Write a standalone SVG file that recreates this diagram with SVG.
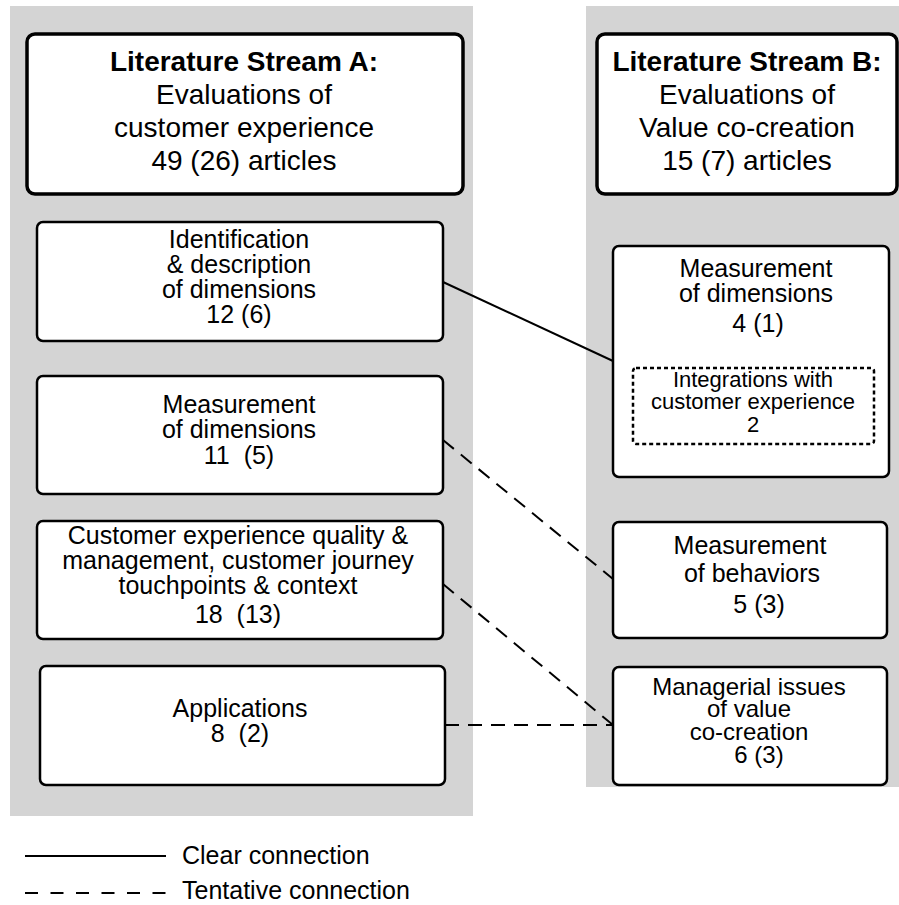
<svg xmlns="http://www.w3.org/2000/svg" width="899" height="905" viewBox="0 0 899 905">
<style>
.panel{fill:#d4d4d4;stroke:none}
.hdr{fill:#fff;stroke:#000;stroke-width:3.5}
.box{fill:#fff;stroke:#000;stroke-width:2.5}
.dot{fill:none;stroke:#000;stroke-width:2.5;stroke-dasharray:4 3}
text{font-family:"Liberation Sans",Arial,sans-serif;fill:#000;text-anchor:middle}
.h{font-size:28px}
.b{font-size:25px}
.m{font-size:24px}
.s{font-size:22px}
.bold{font-weight:bold}
.clear{stroke:#000;stroke-width:2;fill:none}
.tent{stroke:#000;stroke-width:2;fill:none;stroke-dasharray:14 9}
</style>
<rect width="899" height="905" fill="#fff"/>
<rect class="panel" x="10" y="6" width="463" height="810"/>
<rect class="panel" x="586" y="6" width="313" height="781"/>

<g id="headerA">
<rect class="hdr" x="27" y="34" width="436" height="160" rx="8"/>
<text class="h bold" x="244" y="71">Literature Stream A:</text>
<text class="h" x="244" y="104">Evaluations of</text>
<text class="h" x="244" y="137">customer experience</text>
<text class="h" x="244" y="170">49 (26) articles</text>
</g>
<g id="headerB">
<rect class="hdr" x="597" y="34" width="300" height="160" rx="8"/>
<text class="h bold" x="747" y="71">Literature Stream B:</text>
<text class="h" x="747" y="104">Evaluations of</text>
<text class="h" x="747" y="137">Value co-creation</text>
<text class="h" x="747" y="170">15 (7) articles</text>
</g>

<g id="a1">
<rect class="box" x="37" y="222" width="406" height="119" rx="6"/>
<text class="b" x="239" y="248">Identification</text>
<text class="b" x="239" y="273">&amp; description</text>
<text class="b" x="239" y="298">of dimensions</text>
<text class="b" x="239" y="323">12 (6)</text>
</g>
<g id="a2">
<rect class="box" x="37" y="376" width="406" height="118" rx="6"/>
<text class="b" x="239" y="413">Measurement</text>
<text class="b" x="239" y="438">of dimensions</text>
<text class="b" x="239" y="464" xml:space="preserve">11  (5)</text>
</g>
<g id="a3">
<rect class="box" x="37" y="521" width="406" height="118" rx="6"/>
<text class="b" x="238" y="544">Customer experience quality &amp;</text>
<text class="b" x="238" y="569">management, customer journey</text>
<text class="b" x="238" y="594">touchpoints &amp; context</text>
<text class="b" x="238" y="623" xml:space="preserve">18  (13)</text>
</g>
<g id="a4">
<rect class="box" x="40" y="666" width="405" height="119" rx="6"/>
<text class="b" x="240" y="717">Applications</text>
<text class="b" x="240" y="742" xml:space="preserve">8  (2)</text>
</g>

<g id="b1">
<rect class="box" x="613" y="246" width="276" height="231" rx="6"/>
<text class="b" x="756" y="277">Measurement</text>
<text class="b" x="756" y="302">of dimensions</text>
<text class="b" x="758" y="332">4 (1)</text>
<g id="b1sub">
<rect class="dot" x="633" y="368" width="241" height="76" rx="3"/>
<text class="s" x="753" y="387">Integrations with</text>
<text class="s" x="753" y="409">customer experience</text>
<text class="s" x="753" y="432">2</text>
</g>
</g>
<g id="b2">
<rect class="box" x="613" y="522" width="274" height="116" rx="6"/>
<text class="b" x="750" y="554">Measurement</text>
<text class="b" x="752" y="582">of behaviors</text>
<text class="b" x="759" y="613">5 (3)</text>
</g>
<g id="b3">
<rect class="box" x="613" y="667" width="274" height="118" rx="6"/>
<text class="m" x="749" y="695">Managerial issues</text>
<text class="m" x="749" y="717">of value</text>
<text class="m" x="749" y="740">co-creation</text>
<text class="m" x="759" y="763">6 (3)</text>
</g>

<g id="connectors">
<line class="clear" x1="443" y1="282" x2="613" y2="361"/>
<line class="tent" x1="443" y1="440" x2="613" y2="579"/>
<line class="tent" x1="443" y1="584" x2="613" y2="725"/>
<line class="tent" x1="445" y1="725" x2="613" y2="725"/>
</g>

<g id="legend">
<line class="clear" x1="25" y1="856" x2="166" y2="856"/>
<line class="tent" x1="25" y1="893" x2="166" y2="893" style="stroke-dasharray:13 12.5"/>
<text class="b" x="182" y="864" style="text-anchor:start">Clear connection</text>
<text class="b" x="182" y="899" style="text-anchor:start">Tentative connection</text>
</g>
</svg>
